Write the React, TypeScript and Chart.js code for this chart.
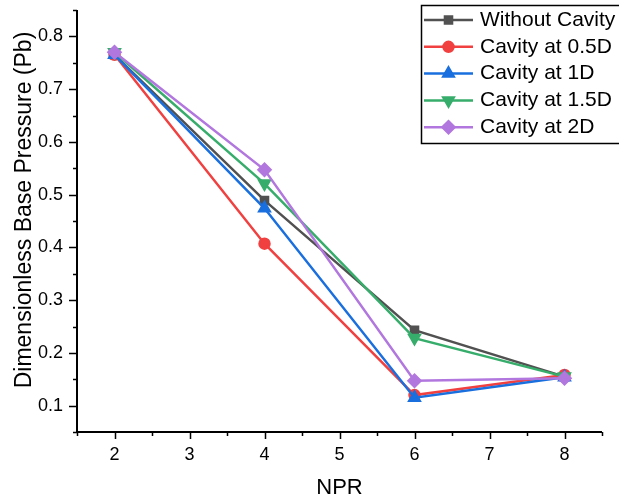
import React, { useEffect, useRef } from "react";
import { Chart, registerables } from "chart.js";
import { drawPoint } from "chart.js/helpers";

Chart.register(...registerables);

const npr = [2, 4, 6, 8];
const withoutCavity = [0.765, 0.489, 0.243, 0.155];
const cavity05D = [0.765, 0.407, 0.12, 0.158];
const cavity1D = [0.765, 0.474, 0.115, 0.154];
const cavity15D = [0.77, 0.521, 0.228, 0.155];
const cavity2D = [0.77, 0.547, 0.147, 0.152];

const xMajor = [2, 3, 4, 5, 6, 7, 8];
const xMinor = [1.5, 2.5, 3.5, 4.5, 5.5, 6.5, 7.5, 8.5];
const yMajor = [0.1, 0.2, 0.3, 0.4, 0.5, 0.6, 0.7, 0.8];
const yMinor = [0.05, 0.15, 0.25, 0.35, 0.45, 0.55, 0.65, 0.75, 0.85];

const seriesNames = ["Without Cavity", "Cavity at 0.5D", "Cavity at 1D", "Cavity at 1.5D", "Cavity at 2D"];
const seriesValues = [withoutCavity, cavity05D, cavity1D, cavity15D, cavity2D];
const seriesColors = ["#515151", "#F14040", "#1A6FDF", "#37AD6B", "#B177DE"];
const seriesStyles = ["rect", "circle", "triangle", "triangle", "rectRot"];
const seriesRotation = [0, 0, 0, 180, 0];
const seriesRadius = [5, 5, 6, 6, 6];

const FONT = "'Liberation Sans', Arial, sans-serif";

const axesPlugin = {
  id: "customAxes",
  afterDraw(chart: any) {
    const ctx = chart.ctx;
    const xs = chart.scales.x;
    const ys = chart.scales.y;
    const area = chart.chartArea;
    ctx.save();
    ctx.strokeStyle = "#000";
    ctx.lineWidth = 1.5;
    ctx.beginPath();
    for (const v of xMajor) {
      const px = Math.round(xs.getPixelForValue(v)) + 0.5;
      ctx.moveTo(px, area.bottom);
      ctx.lineTo(px, area.bottom + 7);
    }
    for (const v of xMinor) {
      const px = Math.round(xs.getPixelForValue(v)) + 0.5;
      ctx.moveTo(px, area.bottom);
      ctx.lineTo(px, area.bottom + 4);
    }
    for (const v of yMajor) {
      const py = Math.round(ys.getPixelForValue(v)) + 0.5;
      ctx.moveTo(area.left, py);
      ctx.lineTo(area.left - 8, py);
    }
    for (const v of yMinor) {
      const py = Math.round(ys.getPixelForValue(v)) + 0.5;
      ctx.moveTo(area.left, py);
      ctx.lineTo(area.left - 4, py);
    }
    ctx.stroke();
    ctx.lineWidth = 2;
    ctx.beginPath();
    ctx.moveTo(area.left, area.top);
    ctx.lineTo(area.left, area.bottom);
    ctx.lineTo(area.right, area.bottom);
    ctx.stroke();

    ctx.fillStyle = "#000";
    ctx.font = "18px " + FONT;
    ctx.textAlign = "center";
    ctx.textBaseline = "alphabetic";
    for (const v of xMajor) {
      ctx.fillText(String(v), xs.getPixelForValue(v), area.bottom + 28);
    }
    ctx.textAlign = "right";
    ctx.textBaseline = "middle";
    for (const v of yMajor) {
      ctx.fillText(v.toFixed(1), area.left - 14, ys.getPixelForValue(v));
    }

    ctx.textAlign = "center";
    ctx.textBaseline = "alphabetic";
    ctx.font = "22px " + FONT;
    ctx.fillText("NPR", (area.left + area.right) / 2, 494);
    ctx.save();
    ctx.font = "23px " + FONT;
    ctx.textBaseline = "middle";
    ctx.translate(25, 210);
    ctx.rotate(-Math.PI / 2);
    ctx.fillText("Dimensionless Base Pressure (Pb)", 0, 0);
    ctx.restore();

    // legend
    ctx.lineWidth = 1.5;
    ctx.strokeStyle = "#000";
    ctx.strokeRect(421.5, 5.5, 205, 138);
    ctx.font = "21px " + FONT;
    ctx.textAlign = "left";
    ctx.textBaseline = "middle";
    for (let i = 0; i < seriesNames.length; i++) {
      const y = 20 + i * 26.8;
      ctx.strokeStyle = seriesColors[i];
      ctx.lineWidth = 2.5;
      ctx.beginPath();
      ctx.moveTo(424, y);
      ctx.lineTo(473, y);
      ctx.stroke();
      ctx.fillStyle = seriesColors[i];
      drawPoint(
        ctx,
        {
          pointStyle: seriesStyles[i],
          radius: seriesRadius[i],
          rotation: seriesRotation[i],
          borderWidth: 1,
        } as any,
        448.5,
        y
      );
      ctx.fillStyle = "#000";
      ctx.fillText(seriesNames[i], 480, y);
    }
    ctx.restore();
  },
};

export default function App() {
  const ref = useRef<HTMLCanvasElement | null>(null);
  useEffect(() => {
    document.body.style.margin = "0";
    const canvas = ref.current!;
    const chart = new Chart(canvas, {
      type: "line",
      data: {
        datasets: seriesNames.map((name, i) => ({
          label: name,
          data: npr.map((x, j) => ({ x, y: seriesValues[i][j] })),
          borderColor: seriesColors[i],
          backgroundColor: seriesColors[i],
          pointBackgroundColor: seriesColors[i],
          pointBorderColor: seriesColors[i],
          pointStyle: seriesStyles[i] as any,
          pointRotation: seriesRotation[i],
          pointRadius: seriesRadius[i],
          borderWidth: 2.5,
          tension: 0,
          order: seriesNames.length - i,
        })),
      },
      options: {
        animation: false,
        responsive: false,
        events: [],
        layout: { padding: { top: 10, right: 17, left: 0, bottom: 0 } },
        plugins: { legend: { display: false }, tooltip: { enabled: false } },
        scales: {
          x: {
            type: "linear",
            min: 1.5,
            max: 8.5,
            grid: { display: false },
            border: { display: false },
            ticks: { display: false },
            afterFit(scale: any) {
              scale.height = 69;
            },
          },
          y: {
            type: "linear",
            min: 0.05,
            max: 0.85,
            grid: { display: false },
            border: { display: false },
            ticks: { display: false },
            afterFit(scale: any) {
              scale.width = 77;
            },
          },
        },
      },
      plugins: [axesPlugin],
    });
    return () => chart.destroy();
  }, []);
  return (
    <div style={{ position: "absolute", left: 0, top: 0, width: 619, height: 501, background: "#fff" }}>
      <canvas ref={ref} width={619} height={501} style={{ width: 619, height: 501, display: "block" }} />
    </div>
  );
}
